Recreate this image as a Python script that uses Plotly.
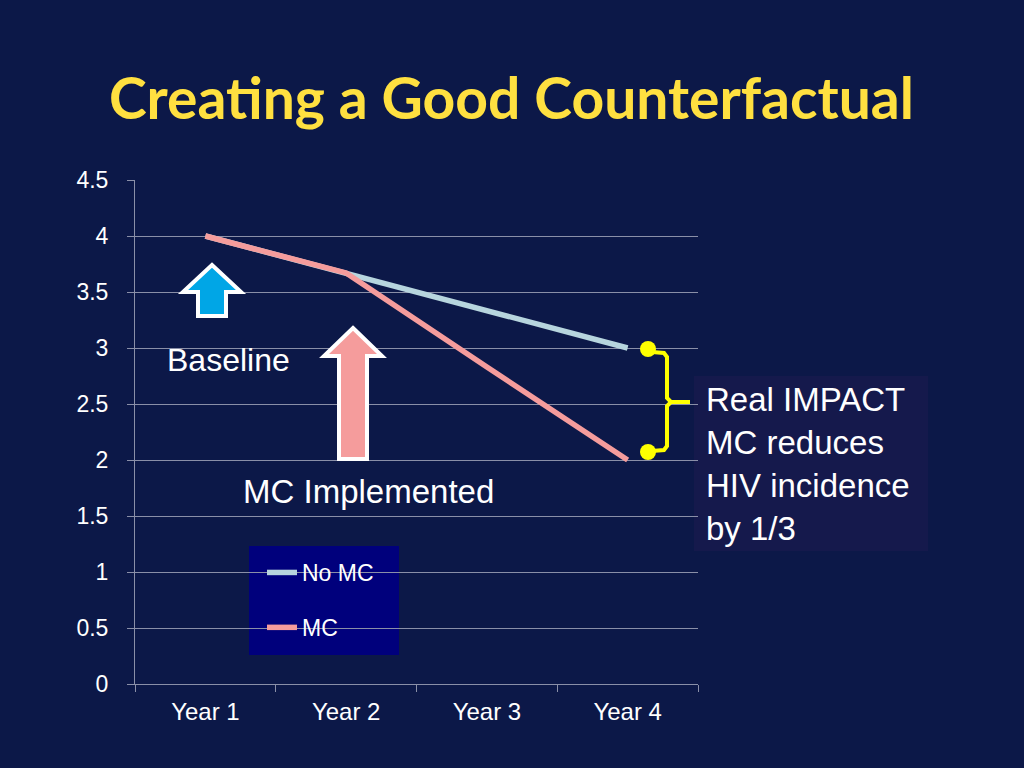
import plotly.graph_objects as go

years = ["Year 1", "Year 2", "Year 3", "Year 4"]
no_mc = [4.0, 3.67, 3.33, 3.0]
mc = [4.0, 3.67, 2.83, 2.0]
series_names = ["No MC", "MC"]
series_colors = ["#b7d5de", "#f59c9c"]
y_ticks = [0, 0.5, 1, 1.5, 2, 2.5, 3, 3.5, 4, 4.5]

BG = "#0c1848"
W, H = 1024, 768
L, R, T, B = 135, 698, 180, 684  # plot area in pixels


def X(px):
    return (px - L) / (R - L)


def Y(py):
    return (B - py) / (B - T)


def path(points, close=True):
    s = "M " + " L ".join(f"{X(a):.5f},{Y(b):.5f}" for a, b in points)
    return s + (" Z" if close else "")


fig = go.Figure()
for i, (name, vals) in enumerate(zip(series_names, [no_mc, mc])):
    fig.add_trace(go.Scatter(
        x=years, y=vals, mode="lines", name=name,
        line=dict(color=series_colors[i], width=5.5),
        legendgroup=f"g{i}",
    ))

shapes = []
# Legend box
shapes.append(dict(type="rect", xref="paper", yref="paper",
                   x0=X(249), x1=X(399), y0=Y(655), y1=Y(546),
                   fillcolor="#00007c", line=dict(width=0), layer="below"))
# Text box background
shapes.append(dict(type="rect", xref="paper", yref="paper",
                   x0=X(694), x1=X(928), y0=Y(551), y1=Y(376),
                   fillcolor="#15194c", line=dict(width=0), layer="below"))
# Blue arrow (Baseline)
shapes.append(dict(type="path", xref="paper", yref="paper",
                   path=path([(212, 265), (241, 292), (226, 292), (226, 316),
                              (198, 316), (198, 292), (183, 292)]),
                   fillcolor="#00a6e6", line=dict(color="white", width=4)))
# Pink arrow (MC Implemented)
shapes.append(dict(type="path", xref="paper", yref="paper",
                   path=path([(353, 328), (382, 356), (367, 356), (367, 459),
                              (339, 459), (339, 356), (324, 356)]),
                   fillcolor="#f59c9c", line=dict(color="white", width=4)))
# Yellow bracket
yel = "#ffff00"
shapes.append(dict(type="path", xref="paper", yref="paper",
                   path=path([(652, 352), (664, 353), (667, 357), (667, 398),
                              (671, 402), (690, 402)], close=False),
                   line=dict(color=yel, width=4)))
shapes.append(dict(type="path", xref="paper", yref="paper",
                   path=path([(671, 402), (667, 406), (667, 446), (664, 450),
                              (652, 451)], close=False),
                   line=dict(color=yel, width=4)))
for cy in (349, 452):
    shapes.append(dict(type="circle", xref="paper", yref="paper",
                       x0=X(640), x1=X(656), y0=Y(cy + 8), y1=Y(cy - 8),
                       fillcolor=yel, line=dict(color=yel, width=0)))

font_txt = "Liberation Sans, Arial, sans-serif"
annotations = [
    dict(text="<b>Creating a Good Counterfactual</b>", xref="paper", yref="paper",
         x=X(511), y=Y(97), showarrow=False, xanchor="center", yanchor="middle",
         font=dict(family="Lato, Open Sans, sans-serif", size=57, color="#ffe040")),
    dict(text="Baseline", xref="paper", yref="paper", x=X(228), y=Y(360),
         showarrow=False, xanchor="center", yanchor="middle",
         font=dict(family=font_txt, size=32, color="white")),
    dict(text="MC Implemented", xref="paper", yref="paper", x=X(368), y=Y(491),
         showarrow=False, xanchor="center", yanchor="middle",
         font=dict(family=font_txt, size=33, color="white")),
    dict(text="Real IMPACT<br>MC reduces<br>HIV incidence<br>by 1/3",
         xref="paper", yref="paper", x=X(704), y=Y(464), showarrow=False,
         xanchor="left", yanchor="middle", align="left",
         font=dict(family=font_txt, size=33, color="white")),
]

grid_c = "#8a8fa8"
tick_font = dict(family=font_txt, size=23, color="white")
fig.update_layout(
    width=W, height=H, autosize=False,
    paper_bgcolor=BG, plot_bgcolor=BG,
    margin=dict(l=L, r=W - R, t=T, b=H - B, pad=0),
    shapes=shapes, annotations=annotations,
    showlegend=True,
    legend=dict(x=X(262), y=Y(551), xanchor="left", yanchor="top",
                bgcolor="rgba(0,0,0,0)", borderwidth=0, tracegroupgap=22,
                itemwidth=30,
                font=dict(family=font_txt, size=23, color="white")),
    xaxis=dict(type="category", range=[-0.5, 3.5], showgrid=False,
               showline=True, linecolor=grid_c, linewidth=1,
               ticks="outside", tickson="boundaries", ticklen=7, tickcolor=grid_c,
               tickfont=dict(family=font_txt, size=24, color="white"),
               ticklabelstandoff=6, fixedrange=True),
    yaxis=dict(range=[0, 4.5], tickvals=y_ticks,
               ticktext=[f"{v:g}" for v in y_ticks],
               showgrid=True, gridcolor=grid_c, gridwidth=1,
               showline=True, linecolor=grid_c, linewidth=1,
               ticks="outside", ticklen=7, tickcolor=grid_c,
               tickfont=tick_font, ticklabelstandoff=14,
               zeroline=False, fixedrange=True),
)

fig.write_html("out.html", config=dict(displayModeBar=False),
               post_script="document.body.style.margin='0';document.body.style.overflow='hidden';")
